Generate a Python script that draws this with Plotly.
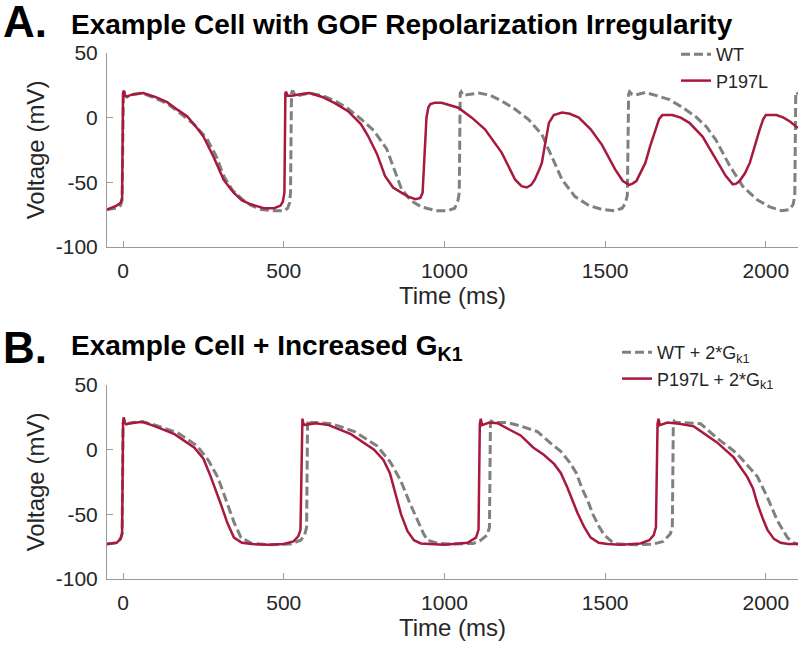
import plotly.graph_objects as go

# ---------------- data ----------------
# Panel A
a_wt_t = [-50, -20, -8, -3, 1, 3, 6, 12, 30, 60, 100, 137, 180, 220, 260, 290, 315, 340, 370, 400, 430, 470, 500,
          512, 518, 521, 524, 528, 535, 545, 580, 620, 660, 700, 740, 780, 820, 845, 866, 895, 928, 975, 1010, 1032,
          1042, 1046, 1049, 1052, 1058, 1075, 1106, 1140, 1178, 1220, 1262, 1303, 1334, 1366, 1406, 1450, 1490, 1530,
          1553, 1563, 1569, 1573, 1576, 1584, 1600, 1625, 1660, 1700, 1740, 1781, 1815, 1844, 1887, 1928, 1970, 2012,
          2050, 2075, 2085, 2090, 2093, 2096, 2100]
a_wt_v = [-71, -70, -68, -64, 19, 21, 17, 16, 18, 19, 15, 11, 3, -5, -16, -30, -46, -56, -63, -68, -71, -72, -72,
          -70, -66, -58, 19, 21, 17, 17, 19, 17, 13, 7, -1, -10, -24, -40, -55, -64, -69, -72, -72, -70,
          -64, -58, 19, 20, 17, 18, 19, 17.5, 13, 6.5, -1.5, -13, -30, -48, -61, -68, -71, -72,
          -70, -66, -60, 18, 20, 18, 18, 19.5, 17, 14, 8, 1, -7, -17, -37, -53, -63, -69,
          -72, -71, -67, -60, 19, 20, 18]

a_mut_t = [-50, -20, -8, -3, 0, 2, 6, 12, 30, 63, 100, 137, 170, 200, 230, 250, 281, 313, 344, 370, 397, 438, 470,
           490, 497, 502, 505, 507, 512, 525, 560, 580, 620, 660, 700, 740, 762, 790, 815, 840, 866, 887, 910, 925,
           932, 938, 944, 950, 956, 970, 991, 1043, 1085, 1126, 1150, 1178, 1200, 1220, 1240, 1256, 1270, 1281, 1295,
           1303, 1312, 1320, 1325, 1340, 1366, 1390, 1418, 1455, 1490, 1531, 1555, 1575, 1585, 1597, 1610, 1625, 1640,
           1656, 1668, 1678, 1709, 1735, 1762, 1803, 1844, 1875, 1897, 1908, 1918, 1935, 1950, 1965, 1981, 1992, 2000,
           2033, 2055, 2075, 2100]
a_mut_v = [-71, -68, -66, -62, 19, 21, 17, 16.5, 18, 19, 16, 12, 6, 1, -8, -14.6, -30, -48, -58, -64, -67, -70, -70,
           -68, -65, -58, 19, 20, 17, 17, 18.5, 19, 16, 11, 5, -5, -14, -28, -45, -54, -58, -61, -63, -62,
           -58, -30, 0, 8, 10.5, 11.5, 11.5, 7.7, 0, -9, -17, -27, -38, -48, -53, -54, -52, -48, -40,
           -35, -22, -10, -4, 2, 4, 3, 0, -9, -21, -40, -49, -52, -51, -49, -43, -35, -22,
           -9, -1, 2, 2, 0, -4, -14.6, -32, -45, -51.5, -51, -49, -43, -35, -22, -9, -1, 2,
           2, 0, -3, -8]

# Panel B
b_wt_t = [-50, -20, -8, -3, 0, 2, 5, 10, 30, 60, 100, 170, 230, 265, 295, 320, 345, 367, 400, 450, 520, 553, 565,
          571, 574, 577, 582, 600, 650, 720, 790, 830, 864, 890, 916, 935, 947, 980, 1022, 1090, 1113, 1133, 1140,
          1143, 1146, 1152, 1196, 1240, 1289, 1330, 1361, 1390, 1410, 1428, 1445, 1462, 1480, 1497, 1520, 1540, 1600,
          1650, 1681, 1703, 1709, 1712, 1715, 1720, 1740, 1797, 1848, 1900, 1921, 1950, 1974, 2005, 2036, 2067, 2085,
          2100]
b_wt_v = [-73, -72, -69, -65, 20, 24, 21, 20, 21, 21.5, 19, 13, 3, -8, -21.5, -38, -56, -68, -72.5, -73.5, -73, -70, -66,
          -60, 20, 23, 21, 21, 20, 14, 3, -9, -24, -40, -55, -65, -70, -72.5, -73, -72.5, -70, -66, -60,
          20, 22, 21, 21, 18, 14, 5, -1, -10, -18, -30, -39, -50, -59, -66, -71, -73, -73.5,
          -73, -71, -65, -60, 20, 22, 21, 21, 20, 9, -1, -6, -14, -21, -37, -55, -68, -72,
          -73]

b_mut_t = [-50, -20, -8, -3, 0, 2, 5, 10, 25, 60, 100, 160, 222, 250, 273, 290, 304, 325, 345, 370, 400, 450, 500,
           530, 545, 552, 556, 558, 562, 575, 600, 640, 709, 781, 810, 830, 848, 865, 885, 905, 926, 1000, 1072, 1098,
           1106, 1110, 1113, 1117, 1139, 1165, 1206, 1237, 1277, 1309, 1341, 1362, 1382, 1400, 1414, 1435, 1455, 1480,
           1507, 1548, 1610, 1637, 1651, 1658, 1663, 1666, 1670, 1694, 1730, 1776, 1848, 1900, 1942, 1960, 1974, 1990,
           2005, 2025, 2046, 2070, 2100]
b_mut_v = [-73, -72, -69, -65, 20, 25, 21, 19.5, 20.5, 21.5, 18, 12, 1.5, -7, -21, -32, -42, -57, -68, -72, -73, -73.5, -73,
           -71, -67, -62, 20, 24, 19, 19.5, 20.5, 19, 12, 0, -8, -18, -35, -50, -63, -70, -72.5, -73.5, -72, -68,
           -62, 20, 24, 19, 21, 20.5, 15, 11, 1.5, -4, -11, -18, -29, -40, -49, -60, -68, -72,
           -73, -73.5, -72.5, -70, -66, -60, 20, 24, 19, 21, 20, 18, 5.6, -6, -21, -30, -42, -53,
           -62, -69, -72, -73, -73]

x_ticks = [0, 500, 1000, 1500, 2000]
x_tick_labels = ["0", "500", "1000", "1500", "2000"]
y_ticks = [-100, -50, 0, 50]
y_tick_labels = ["-100", "-50", "0", "50"]

WT_COLOR = "#808080"
MUT_COLOR = "#A8193D"
AXIS_COLOR = "#9a9a9a"
TEXT_COLOR = "#262626"
SANS = "Liberation Sans, Arial, Helvetica, sans-serif"
DASH = "9px,4px"

fig = go.Figure()
fig.add_trace(go.Scatter(x=a_wt_t, y=a_wt_v, mode="lines", name="WT",
                         line=dict(color=WT_COLOR, width=3, dash=DASH), xaxis="x", yaxis="y", legend="legend"))
fig.add_trace(go.Scatter(x=a_mut_t, y=a_mut_v, mode="lines", name="P197L",
                         line=dict(color=MUT_COLOR, width=2.5), xaxis="x", yaxis="y", legend="legend"))
fig.add_trace(go.Scatter(x=b_wt_t, y=b_wt_v, mode="lines", name="WT + 2*G<sub>k1</sub>",
                         line=dict(color=WT_COLOR, width=3, dash=DASH), xaxis="x2", yaxis="y2", legend="legend2"))
fig.add_trace(go.Scatter(x=b_mut_t, y=b_mut_v, mode="lines", name="P197L + 2*G<sub>k1</sub>",
                         line=dict(color=MUT_COLOR, width=2.5), xaxis="x2", yaxis="y2", legend="legend2"))

L, R, T, B = 107, 2, 53, 68
W, H = 800, 647
PW, PH = W - L - R, H - T - B


def px(xp):
    return (xp - L) / PW


def py(yp):
    return (H - B - yp) / PH


xcommon = dict(range=[-50, 2100], tickvals=x_ticks, ticktext=x_tick_labels, showline=True,
               linecolor=AXIS_COLOR, linewidth=1, automargin=False, ticklabelstandoff=5,
               ticks="inside", ticklen=6, tickcolor=AXIS_COLOR, showgrid=False, zeroline=False,
               tickfont=dict(family=SANS, size=21, color=TEXT_COLOR),
               title=dict(text="Time (ms)", font=dict(family=SANS, size=24, color=TEXT_COLOR), standoff=5))
ycommon = dict(range=[-100, 50], tickvals=y_ticks, ticktext=y_tick_labels, showline=True,
               linecolor=AXIS_COLOR, linewidth=1, automargin=False, ticklabelstandoff=4,
               ticks="inside", ticklen=6, tickcolor=AXIS_COLOR, showgrid=False, zeroline=False,
               tickfont=dict(family=SANS, size=21, color=TEXT_COLOR),
               title=dict(text="Voltage (mV)", font=dict(family=SANS, size=24, color=TEXT_COLOR), standoff=4))

fig.update_layout(
    width=W, height=H,
    margin=dict(l=L, r=R, t=T, b=B, autoexpand=False),
    paper_bgcolor="white", plot_bgcolor="white",
    xaxis=dict(**xcommon, domain=[0, 1], anchor="y"),
    yaxis=dict(**ycommon, domain=[py(247), 1], anchor="x"),
    xaxis2=dict(**xcommon, domain=[0, 1], anchor="y2"),
    yaxis2=dict(**ycommon, domain=[0, py(385)], anchor="x2"),
    legend=dict(x=px(676), y=py(36), xanchor="left", yanchor="top", bgcolor="rgba(0,0,0,0)",
                font=dict(family=SANS, size=18, color=TEXT_COLOR), itemwidth=30, tracegroupgap=0),
    legend2=dict(x=px(617), y=py(334), xanchor="left", yanchor="top", bgcolor="rgba(0,0,0,0)",
                 font=dict(family=SANS, size=18, color=TEXT_COLOR), itemwidth=30, tracegroupgap=0),
    showlegend=True,
)

annots = [
    dict(text="<b>A.</b>", x=px(1), y=py(22), font=dict(family=SANS, size=44, color="black")),
    dict(text="<b>Example Cell with GOF Repolarization Irregularity</b>", x=px(69), y=py(25),
         font=dict(family=SANS, size=28, color="black")),
    dict(text="<b>B.</b>", x=px(1), y=py(347), font=dict(family=SANS, size=44, color="black")),
    dict(text="<b>Example Cell + Increased G<sub>K1</sub></b>", x=px(69), y=py(347),
         font=dict(family=SANS, size=28, color="black")),
]
for a in annots:
    fig.add_annotation(xref="paper", yref="paper", xanchor="left", yanchor="middle", showarrow=False, **a)

fig.write_html("out.html", config={"displayModeBar": False},
               post_script="document.body.style.margin='0';")
